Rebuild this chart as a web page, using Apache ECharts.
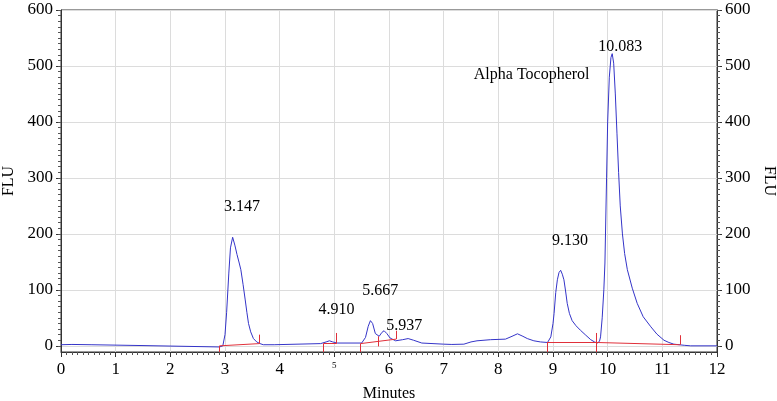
<!DOCTYPE html>
<html>
<head>
<meta charset="utf-8">
<script src="https://cdn.jsdelivr.net/npm/echarts@6/dist/echarts.min.js"></script>
<style>
  html, body { margin: 0; padding: 0; background: #fff; }
  #chart { width: 777px; height: 401px; }
</style>
</head>
<body>
<div id="chart"></div>
<script>
// chromatogram trace, minutes / FLU
const traceTime = [0.00, 0.20, 0.55, 0.57, 1.50, 1.52, 2.90, 2.96, 3.00, 3.03, 3.07, 3.10, 3.14, 3.18, 3.22, 3.26, 3.29, 3.33, 3.37, 3.40, 3.43, 3.47, 3.52, 3.58, 3.64, 3.70, 3.90, 3.93,
  4.75, 4.85, 4.91, 4.97, 5.05, 5.50, 5.57, 5.62, 5.66, 5.70, 5.75, 5.82, 5.87, 5.91, 5.96, 6.02, 6.12, 6.25, 6.35, 6.45, 6.60, 7.00, 7.15, 7.37, 7.50, 7.61, 7.86,
  8.13, 8.25, 8.35, 8.45, 8.53, 8.65, 8.77, 8.90, 8.96, 9.00, 9.02, 9.05, 9.08, 9.11, 9.14, 9.17, 9.20, 9.23, 9.26, 9.30, 9.35, 9.42, 9.50, 9.60, 9.69, 9.76, 9.81,
  9.85, 9.87, 9.90, 9.93, 9.95, 9.98, 10.00, 10.03, 10.06, 10.083, 10.11, 10.14, 10.17, 10.20, 10.23, 10.27, 10.31, 10.36, 10.45, 10.54, 10.65, 10.79, 10.90,
  11.03, 11.12, 11.21, 11.40, 11.52, 12.00]
const traceFlu = [2, 2.5, 2, 0.5, 0.5, -1, -2, 0, 20, 60, 130, 175, 194, 180, 163, 148, 136, 110, 82, 60, 40, 25, 13, 7, 4, 2, 2, 4,
  4, 7, 9, 7, 5, 5, 15, 35, 45, 40, 22, 17, 24, 27, 22, 14, 9, 11, 13, 10, 5, 3, 2.5, 3, 7, 9, 11,
  12, 17, 21.5, 17, 13, 9, 7, 6, 16, 40, 58, 95, 118, 131, 135, 128, 118, 98, 76, 58, 45, 36, 28, 19, 11, 7, 5,
  8, 16, 50, 100, 148, 300, 400, 480, 515, 522, 505, 450, 380, 310, 250, 200, 165, 136, 103, 76, 52, 34, 21,
  10, 6, 3, 1, 0, 0]

// integration baselines [t1, y1, t2, y2]
const baseSegs = [[2.90, 0, 3.63, 4], [4.80, 4, 5.04, 4], [5.48, 4, 6.13, 12], [8.89, 6, 9.80, 6], [9.80, 6, 11.32, 2]]
// peak start / end markers [t, yFrom, yTo]
const markTicks = [[2.90, -11, 0], [3.63, 4, 20], [4.80, -11, 4], [5.04, 4, 23], [5.48, -11, 4], [5.81, -1, 17],
  [6.13, 12, 27], [8.89, -11, 6], [9.80, -11, 23], [11.32, 2, 19]]

// peak annotations
const peakNames = ['3.147', '4.910', '5.667', '5.937', '9.130', '10.083', 'Alpha Tocopherol']
const peakTextAt = [[3.31, 249], [5.04, 64], [5.84, 98], [6.28, 35], [9.31, 188], [10.23, 535], [8.61, 484]]

const yMajor = [0, 100, 200, 300, 400, 500, 600]
const yMinor = []
for (let v = 0; v <= 600; v += 10) yMinor.push(v)

const font = 'Liberation Serif'

const chart = echarts.init(document.getElementById('chart'))

function majorY(pos) {
  return {
    type: 'value',
    position: pos,
    min: -11,
    max: 600,
    name: 'FLU',
    nameLocation: 'middle',
    nameGap: pos === 'left' ? 39 : 41,
    nameRotate: pos === 'left' ? 90 : -90,
    nameTextStyle: { fontFamily: font, fontSize: 16, color: '#000' },
    axisLine: { show: true, lineStyle: { color: '#333', width: 1 } },
    axisTick: { show: true, length: 5, customValues: yMajor, lineStyle: { color: '#333' } },
    axisLabel: { customValues: yMajor, fontFamily: font, fontSize: 17, color: '#000', margin: 8 },
    splitLine: { show: pos === 'left', lineStyle: { color: '#dcdcdc', width: 1 } }
  }
}

function minorY(pos) {
  return {
    type: 'value',
    position: pos,
    min: -11,
    max: 600,
    axisLine: { show: false },
    axisTick: { show: true, length: 3, customValues: yMinor, lineStyle: { color: '#555' } },
    axisLabel: { show: false },
    splitLine: { show: false }
  }
}

chart.setOption({
  animation: false,
  grid: {
    left: 61,
    right: 60,
    top: 10,
    bottom: 49,
    outerBoundsMode: 'none',
    containLabel: false,
    show: true,
    borderColor: '#333',
    borderWidth: 1
  },
  xAxis: {
    type: 'value',
    min: 0,
    max: 12,
    interval: 1,
    name: 'Minutes',
    nameLocation: 'middle',
    nameGap: 34,
    nameTextStyle: { fontFamily: font, fontSize: 16, color: '#000' },
    axisLine: { show: true, onZero: false, lineStyle: { color: '#333' } },
    axisTick: { length: 5, lineStyle: { color: '#333' } },
    minorTick: { show: true, splitNumber: 10, length: 3, lineStyle: { color: '#555' } },
    splitLine: { show: true, lineStyle: { color: '#dcdcdc', width: 1 } },
    axisLabel: {
      fontFamily: font,
      fontSize: 17,
      color: '#000',
      margin: 9,
      formatter: v => v === 5 ? '{s|5}' : String(v),
      rich: { s: { fontFamily: font, fontSize: 9, color: '#000' } }
    }
  },
  yAxis: [majorY('left'), majorY('right'), minorY('left'), minorY('right')],
  series: [{
    name: 'FLU',
    type: 'line',
    showSymbol: false,
    symbol: 'none',
    clip: false,
    lineStyle: { color: '#3434c8', width: 1 },
    data: traceTime.map((t, i) => [t, traceFlu[i]]),
    markLine: {
      silent: true,
      symbol: ['none', 'none'],
      label: { show: false },
      lineStyle: { color: '#e0303a', width: 1, type: 'solid' },
      data: baseSegs.map(s => [{ coord: [s[0], s[1]] }, { coord: [s[2], s[3]] }])
        .concat(markTicks.map(m => [{ coord: [m[0], m[1]] }, { coord: [m[0], m[2]] }]))
    }
  }, {
    name: 'peaks',
    type: 'scatter',
    symbolSize: 0,
    silent: true,
    itemStyle: { opacity: 1 },
    label: {
      show: true,
      position: 'inside',
      formatter: p => p.name,
      fontFamily: font,
      fontSize: 16,
      color: '#000',
      opacity: 1,
      textBorderWidth: 0
    },
    data: peakNames.map((n, i) => ({ name: n, value: peakTextAt[i] }))
  }]
})
</script>
</body>
</html>
